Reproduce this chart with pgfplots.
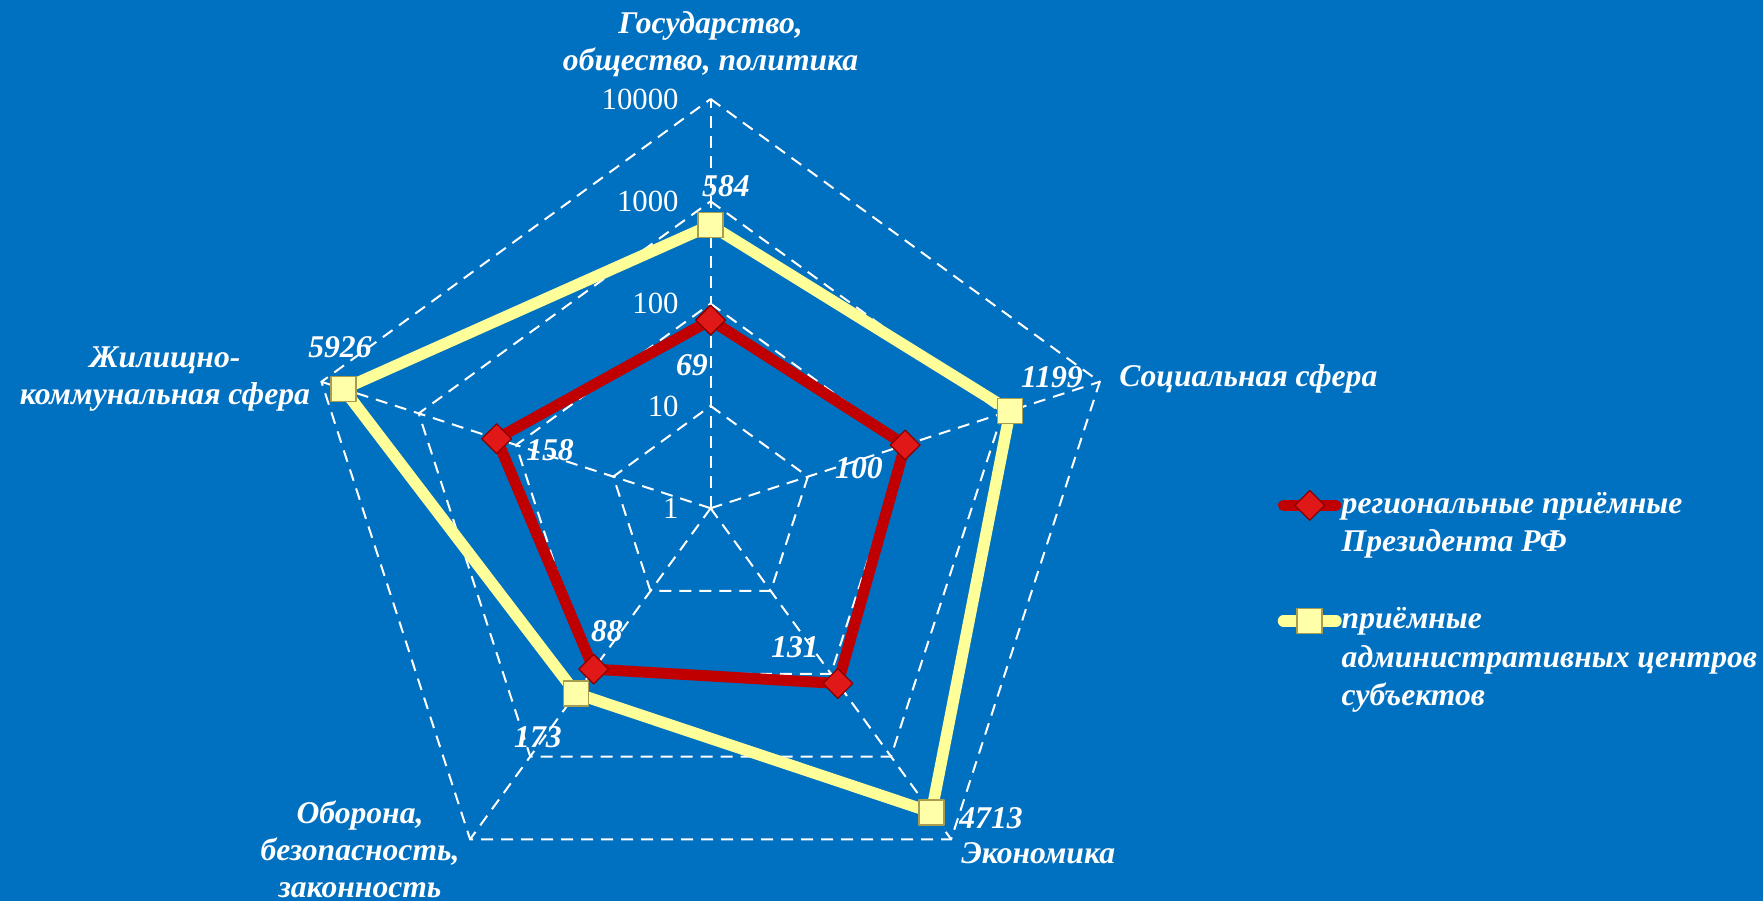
\documentclass[border=0pt]{standalone}
\usepackage{fontspec}
\setmainfont{Liberation Serif}
\usepackage{pgfplots}
\usepackage{pgfplotstable}
\pgfplotsset{compat=1.18}
\definecolor{bgblue}{HTML}{0070C0}
\definecolor{redline}{HTML}{C00000}
\definecolor{redmark}{HTML}{E01818}
\definecolor{redborder}{HTML}{8A0000}
\definecolor{yelline}{HTML}{FFFF99}
\definecolor{yelmark}{HTML}{FFFFAA}
\definecolor{yelborder}{HTML}{A89C50}

% angle (deg), value
\pgfplotstableread{
a v
90 69
18 100
-54 131
234 88
162 158
90 69
}\redtab
\pgfplotstableread{
a v
90 584
18 1199
-54 4713
234 173
162 5926
90 584
}\yeltab

\tikzset{
  grid/.style={draw=white, line width=0.4mm, dash pattern=on 2.4mm off 1.6mm},
  lbl/.style={font=\fontsize{18}{21}\selectfont\bfseries\itshape, text=white, inner sep=0pt},
  tck/.style={font=\fontsize{17.5}{20}\selectfont, text=white, inner sep=0pt, anchor=east},
}

\begin{document}
\begin{tikzpicture}
\begin{axis}[
  x=2.046cm, y=2.046cm,
  xmin=-6.946, xmax=10.287, ymin=-3.840, ymax=4.968,
  hide axis, clip=false,
  legend style={at={(axis cs:5.54,0.178)}, anchor=north west, draw=none, fill=none,
    inner sep=0pt, row sep=1.7mm,
    font=\fontsize{18}{21}\selectfont\bfseries\itshape, text=white,
    nodes={inner sep=0pt, text height=4.6mm, text depth=1.4mm}},
  legend cell align=left,
  legend image code/.code={\draw[#1, mark repeat=2, mark phase=2] plot coordinates {(0mm,0mm) (5.25mm,0mm) (10.5mm,0mm)};},
]
\fill[bgblue] (rel axis cs:0,0) rectangle (rel axis cs:1,1);

% grid rings (decades 10, 100, 1000, 10000) and spokes
\draw[grid] (axis cs:0,1) -- (axis cs:0.951,0.309) -- (axis cs:0.588,-0.809) -- (axis cs:-0.588,-0.809) -- (axis cs:-0.951,0.309) -- cycle;
\draw[grid] (axis cs:0,2) -- (axis cs:1.902,0.618) -- (axis cs:1.176,-1.618) -- (axis cs:-1.176,-1.618) -- (axis cs:-1.902,0.618) -- cycle;
\draw[grid] (axis cs:0,3) -- (axis cs:2.853,0.927) -- (axis cs:1.763,-2.427) -- (axis cs:-1.763,-2.427) -- (axis cs:-2.853,0.927) -- cycle;
\draw[grid] (axis cs:0,4) -- (axis cs:3.804,1.236) -- (axis cs:2.351,-3.236) -- (axis cs:-2.351,-3.236) -- (axis cs:-3.804,1.236) -- cycle;
\draw[grid] (axis cs:0,0) -- (axis cs:0,4);
\draw[grid] (axis cs:0,0) -- (axis cs:3.804,1.236);
\draw[grid] (axis cs:0,0) -- (axis cs:2.351,-3.236);
\draw[grid] (axis cs:0,0) -- (axis cs:-2.351,-3.236);
\draw[grid] (axis cs:0,0) -- (axis cs:-3.804,1.236);

% tick labels
\node[tck] at (axis cs:-0.31,0) {1};
\node[tck] at (axis cs:-0.31,1) {10};
\node[tck] at (axis cs:-0.31,2) {100};
\node[tck] at (axis cs:-0.31,3) {1000};
\node[tck] at (axis cs:-0.31,4) {10000};

\addplot[redline, line width=2.2mm, line join=round, line cap=round,
  mark=square*, mark size=2.1mm, mark options={rotate=45, fill=redmark, draw=redborder, line width=0.25mm}]
  table[x expr={log10(\thisrow{v})*cos(\thisrow{a})}, y expr={log10(\thisrow{v})*sin(\thisrow{a})}] {\redtab};
\addlegendentry{региональные приёмные}
\addlegendimage{empty legend}
\addlegendentry{Президента РФ}
\addlegendimage{empty legend}
\addlegendentry{}

\addplot[yelline, line width=2.3mm, line join=round, line cap=round,
  mark=square*, mark size=2.5mm, mark options={fill=yelmark, draw=yelborder, line width=0.3mm}]
  table[x expr={log10(\thisrow{v})*cos(\thisrow{a})}, y expr={log10(\thisrow{v})*sin(\thisrow{a})}] {\yeltab};
\addlegendentry{приёмные}
\addlegendimage{empty legend}
\addlegendentry{административных центров}
\addlegendimage{empty legend}
\addlegendentry{субъектов}

% data labels
\node[lbl] at (axis cs:0.150,3.150) {584};
\node[lbl] at (axis cs:-0.182,1.400) {69};
\node[lbl] at (axis cs:3.337,1.283) {1199};
\node[lbl] at (axis cs:1.450,0.393) {100};
\node[lbl] at (axis cs:0.825,-1.356) {131};
\node[lbl] at (axis cs:2.741,-3.033) {4713};
\node[lbl] at (axis cs:-1.013,-1.200) {88};
\node[lbl] at (axis cs:-1.688,-2.236) {173};
\node[lbl] at (axis cs:-3.623,1.576) {5926};
\node[lbl] at (axis cs:-1.570,0.569) {158};

% category labels
\node[lbl, align=center] at (axis cs:0,4.533) {Государство,\\общество, политика};
\node[lbl, anchor=west] at (axis cs:3.992,1.265) {Социальная сфера};
\node[lbl, anchor=west] at (axis cs:2.448,-3.370) {Экономика};
\node[lbl, align=center] at (axis cs:-3.427,-3.335) {Оборона,\\безопасность,\\законность};
\node[lbl, align=center] at (axis cs:-5.333,1.265) {Жилищно-\\коммунальная сфера};
\end{axis}
\pgfresetboundingbox
\useasboundingbox (current axis.south west) rectangle (current axis.north east);
\end{tikzpicture}
\end{document}
